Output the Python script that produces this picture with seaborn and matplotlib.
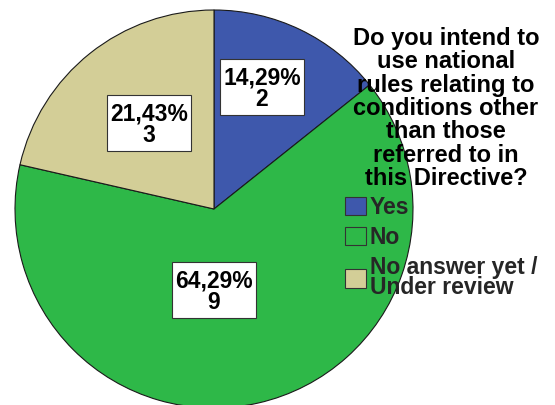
import matplotlib
matplotlib.use("Agg")
import matplotlib.pyplot as plt
from matplotlib.patches import Patch, Rectangle
import seaborn as sns

# Survey answers and counts
categories = ["Yes", "No", "No answer yet /\nUnder review"]
counts = [2, 9, 3]
colors = ["#3E58AC", "#2EB848", "#D3CE97"]
title_text = ("Do you intend to\nuse national\nrules relating to\nconditions other\n"
              "than those\nreferred to in\nthis Directive?")

sns.set_theme(style="white")
plt.rcParams["font.family"] = ["Liberation Sans", "DejaVu Sans"]

W, H = 555, 405
fig = plt.figure(figsize=(W / 100, H / 100), dpi=100)
fig.patch.set_facecolor("white")

# Pie centre (214, 209) px from top-left, radius 199 px
cx, cy, r = 214, 209, 199
ax = fig.add_axes([(cx - r) / W, (H - cy - r) / H, 2 * r / W, 2 * r / H])
wedges, _ = ax.pie(
    counts,
    colors=colors,
    startangle=90,
    counterclock=False,
    radius=1.0,
    wedgeprops=dict(edgecolor="#1a1a1a", linewidth=0.8),
)
ax.set_xlim(-1, 1)
ax.set_ylim(-1, 1)
ax.set_aspect("equal")
ax.axis("off")

# Value boxes: fixed-size white boxes with percentage and count
total = sum(counts)
label_pos = [(0.241, 0.613), (0.0, -0.407), (-0.327, 0.432)]
box_w, box_h = 84 / r, 56 / r
for n, (x, y) in zip(counts, label_pos):
    pct = f"{100 * n / total:.2f}".replace(".", ",") + "%"
    ax.add_patch(Rectangle((x - box_w / 2, y - box_h / 2), box_w, box_h,
                           facecolor="white", edgecolor="#333333",
                           linewidth=0.8, zorder=3))
    ax.text(x, y - 0.01, f"{pct}\n{n}", ha="center", va="center", fontsize=16.5,
            fontweight="bold", color="black", linespacing=0.92, zorder=4)

fig.text(446 / W, 1 - 27 / H, title_text, ha="center", va="top", fontsize=17,
         fontweight="bold", color="black", linespacing=1.02)

handles = [Patch(facecolor=c, edgecolor="#333333", linewidth=0.8) for c in colors]
leg = fig.legend(handles, categories, loc="upper left",
                 bbox_to_anchor=(345 / W, 1 - 196 / H), frameon=False,
                 prop=dict(size=16.5, weight="bold"), handlelength=0.92,
                 handleheight=0.87, handletextpad=0.15, labelspacing=0.3,
                 borderpad=0, borderaxespad=0)
for t in leg.get_texts():
    t.set_linespacing(0.85)

fig.savefig("out.png", dpi=100, facecolor="white")
